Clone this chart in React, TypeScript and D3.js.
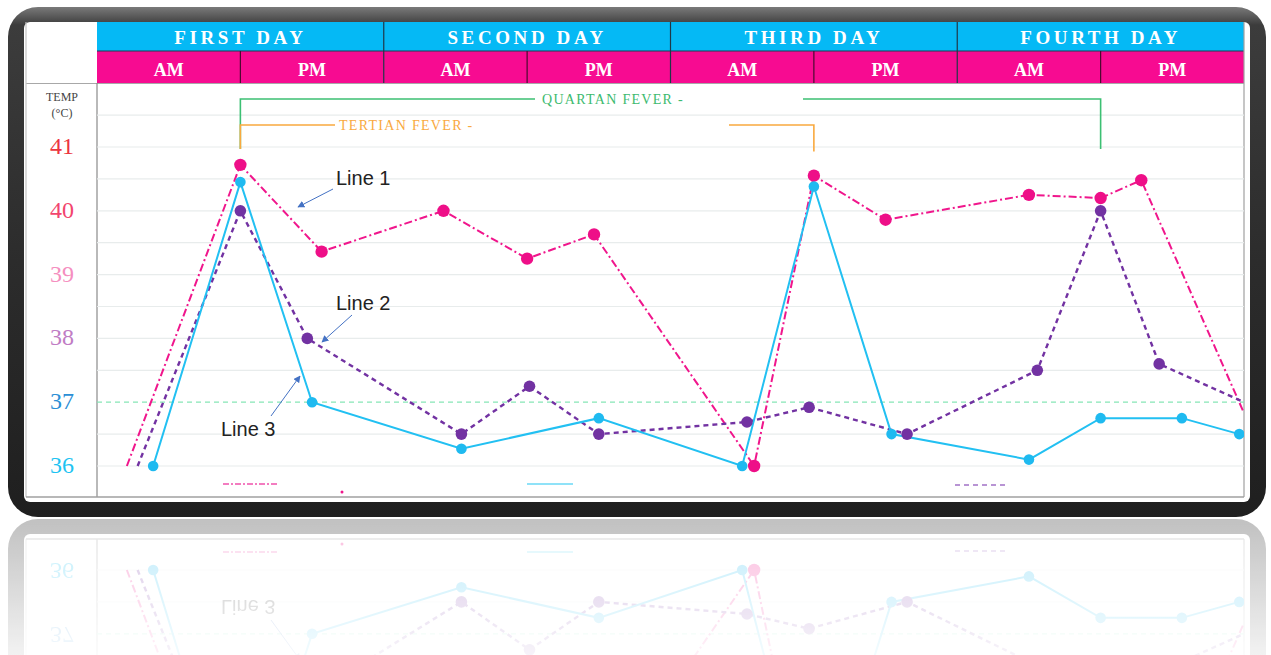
import React from "react";
import * as d3 from "d3";

const days = ["FIRST DAY", "SECOND DAY", "THIRD DAY", "FOURTH DAY"];
const halves = ["AM", "PM"];
const yTicks = [36, 37, 38, 39, 40, 41];
const yTickColors = ["#1ec3f2", "#2b8fd6", "#c07cc4", "#f58fbf", "#f2456e", "#ec3540"];
const gridTemps = [36, 36.5, 37.5, 38, 38.5, 39, 39.5, 40, 40.5, 41, 41.5];

// hours since start of day 1, temperature °C
const line1Hours = [2.5, 12, 18.8, 29, 36, 41.6, 55, 60, 66, 78, 84, 87.4, 96];
const line1Temps = [36.0, 40.72, 39.36, 40.0, 39.25, 39.63, 36.0, 40.55, 39.86, 40.25, 40.2, 40.48, 36.83];
const line2Hours = [3.4, 12, 17.6, 30.5, 36.2, 42, 54.4, 59.6, 67.8, 78.7, 84, 88.9, 96];
const line2Temps = [36.0, 40.0, 38.0, 36.5, 37.25, 36.5, 36.69, 36.92, 36.5, 37.5, 40.0, 37.6, 37.0];
const line3Hours = [4.7, 12, 18, 30.5, 42, 54, 60, 66.5, 78, 84, 90.8, 95.6];
const line3Temps = [36.0, 40.45, 37.0, 36.27, 36.75, 36.0, 40.38, 36.5, 36.1, 36.75, 36.75, 36.5];

const normalTemp = 37;
const quartan = { label: "QUARTAN FEVER -", start: 12, end: 84 };
const tertian = { label: "TERTIAN FEVER -", start: 12, end: 60 };

const L = 97, R = 1244;
const x = d3.scaleLinear().domain([0, 96]).range([L, R]);
const y = d3.scaleLinear().domain([36, 41]).range([466, 147]);

type P = [number, number];
const zip = (h: number[], t: number[]): P[] => h.map((v, i) => [v, t[i]]);
const lineGen = d3.line<P>().x(d => x(d[0])).y(d => y(d[1]));

const s1 = zip(line1Hours, line1Temps);
const s2 = zip(line2Hours, line2Temps);
const s3 = zip(line3Hours, line3Temps);

const serif = "'Liberation Serif', 'DejaVu Serif', serif";
const sans = "'Liberation Sans', Arial, sans-serif";

function Card() {
  const dayW = (R - L) / 4;
  const halfW = dayW / 2;
  return (
    <g id="card">
      <rect x={8} y={7} width={1258} height={510} rx={30} fill="url(#frameGrad)" />
      <rect x={24} y={22} width={1226} height={480} rx={6} fill="#ffffff" />
      {/* header */}
      <rect x={L} y={22} width={R - L} height={29} fill="#05b9f5" />
      <rect x={L} y={51} width={R - L} height={32} fill="#f70b91" />
      <line x1={L} x2={R} y1={51} y2={51} stroke="#1d3f55" strokeWidth={1.2} />
      {days.map((d, i) => (
        <g key={d}>
          {i > 0 && <line x1={L + i * dayW} x2={L + i * dayW} y1={22} y2={83} stroke="#203848" strokeWidth={1.2} />}
          <text x={L + i * dayW + dayW / 2} y={44} textAnchor="middle" fill="#fff" fontFamily={serif}
            fontWeight="bold" fontSize={19} letterSpacing={3.6}>{d}</text>
          {halves.map((h, j) => (
            <g key={h}>
              {j > 0 && <line x1={L + i * dayW + halfW} x2={L + i * dayW + halfW} y1={51} y2={83} stroke="#4a0a30" strokeWidth={1.2} />}
              <text x={L + i * dayW + j * halfW + halfW / 2} y={76} textAnchor="middle" fill="#fff"
                fontFamily={serif} fontWeight="bold" fontSize={18}>{h}</text>
            </g>
          ))}
        </g>
      ))}
      {/* table borders */}
      <line x1={26} x2={R} y1={83.5} y2={83.5} stroke="#a8a8a8" strokeWidth={1.2} />
      <line x1={L} x2={L} y1={83} y2={497} stroke="#8a8a8a" strokeWidth={1.2} />
      <line x1={26} x2={26} y1={22} y2={497} stroke="#c4c4c4" strokeWidth={1.2} />
      <line x1={R} x2={R} y1={22} y2={497} stroke="#a0a0a0" strokeWidth={1.2} />
      <line x1={26} x2={R} y1={497} y2={497} stroke="#a0a0a0" strokeWidth={1.5} />
      {/* grid */}
      {gridTemps.map(t => (
        <line key={t} x1={L} x2={R} y1={y(t)} y2={y(t)} stroke="#e8ecec" strokeWidth={1.2} />
      ))}
      <line x1={L} x2={R} y1={y(normalTemp)} y2={y(normalTemp)} stroke="#86e6b6" strokeWidth={1.3} strokeDasharray="5,4" />
      {/* y axis */}
      <text x={62} y={101} textAnchor="middle" fontFamily={serif} fontSize={12} fill="#444">TEMP</text>
      <text x={62} y={117} textAnchor="middle" fontFamily={serif} fontSize={12} fill="#444">(°C)</text>
      {yTicks.map((t, i) => (
        <text key={t} x={62} y={y(t) + 7} textAnchor="middle" fontFamily={serif} fontSize={24} fill={yTickColors[i]}>{t}</text>
      ))}
      {/* annotations */}
      <path d={`M${x(quartan.start)},${y(40.97)}V99H535M803,99H${x(quartan.end)}V${y(40.97)}`} fill="none" stroke="#3cc073" strokeWidth={1.6} />
      <text x={542} y={104} fontFamily={serif} fontSize={14} letterSpacing={1.3} fill="#3cba6e">{quartan.label}</text>
      <path d={`M${x(tertian.start)},${y(40.97)}V125H335M729,125H${x(tertian.end)}V${y(40.93)}`} fill="none" stroke="#f9a93f" strokeWidth={1.6} />
      <text x={339} y={130} fontFamily={serif} fontSize={14} letterSpacing={1.3} fill="#f9a93f">{tertian.label}</text>
      {/* lines */}
      <g clipPath="url(#plotClip)">
        <path d={lineGen(s1) || ""} fill="none" stroke="#f0168c" strokeWidth={2} strokeDasharray="8,3,2,3" />
        <path d={lineGen(s2) || ""} fill="none" stroke="#7232a2" strokeWidth={2.4} strokeDasharray="5,4" />
        <path d={lineGen(s3) || ""} fill="none" stroke="#22c0f2" strokeWidth={2} />
        {s1.slice(1, -1).map((d, i) => <circle key={"a" + i} cx={x(d[0])} cy={y(d[1])} r={6.2} fill="#ee0f88" />)}
        {s2.slice(1, -1).map((d, i) => <circle key={"b" + i} cx={x(d[0])} cy={y(d[1])} r={5.8} fill="#7232a2" />)}
        {s3.map((d, i) => <circle key={"c" + i} cx={x(d[0])} cy={y(d[1])} r={5.3} fill="#1fbaf0" />)}
      </g>
      {/* line labels */}
      <text x={336} y={185} fontFamily={sans} fontSize={20} fill="#222">Line 1</text>
      <line x1={333} y1={189} x2={298} y2={207} stroke="#4472c4" strokeWidth={1} markerEnd="url(#arr)" />
      <text x={336} y={310} fontFamily={sans} fontSize={20} fill="#222">Line 2</text>
      <line x1={352} y1={315} x2={322} y2={342} stroke="#4472c4" strokeWidth={1} markerEnd="url(#arr)" />
      <text x={221} y={436} fontFamily={sans} fontSize={20} fill="#222">Line 3</text>
      <line x1={271} y1={416} x2={300} y2={376} stroke="#4472c4" strokeWidth={1} markerEnd="url(#arr)" />
      {/* partial legend */}
      <line x1={223} x2={278} y1={484} y2={484} stroke="#f37cc0" strokeWidth={2} strokeDasharray="6,2,2,2" />
      <circle cx={342} cy={492} r={1.5} fill="#f0168c" />
      <line x1={527} x2={573} y1={484} y2={484} stroke="#8fe2f8" strokeWidth={2} />
      <line x1={955} x2={1008} y1={485} y2={485} stroke="#b894d4" strokeWidth={2} strokeDasharray="5,4" />
    </g>
  );
}

export default function App() {
  return (
    <svg width={1271} height={655} style={{ position: "absolute", left: 0, top: 0, background: "#fff" }}>
      <defs>
        <linearGradient id="frameGrad" x1="0" y1="0" x2="0" y2="1">
          <stop offset="0" stopColor="#7a7a7a" />
          <stop offset="0.035" stopColor="#3c3c3c" />
          <stop offset="0.5" stopColor="#2c2c2c" />
          <stop offset="1" stopColor="#1f1f1f" />
        </linearGradient>
        <clipPath id="plotClip">
          <rect x={L} y={84} width={R - L} height={413} />
        </clipPath>
        <marker id="arr" viewBox="0 0 10 10" refX="9" refY="5" markerWidth="7" markerHeight="7" orient="auto">
          <path d="M0,0L10,5L0,10Z" fill="#4472c4" />
        </marker>
        <linearGradient id="reflGrad" x1="0" y1="0" x2="0" y2="1">
          <stop offset="0" stopColor="#fff" stopOpacity={0.28} />
          <stop offset="1" stopColor="#fff" stopOpacity={0.06} />
        </linearGradient>
        <mask id="reflMask" maskUnits="userSpaceOnUse" x={0} y={517} width={1271} height={138}>
          <rect x={0} y={518} width={1271} height={137} fill="url(#reflGrad)" />
        </mask>
      </defs>
      <Card />
      <g mask="url(#reflMask)">
        <use href="#card" transform="translate(0,1036) scale(1,-1)" />
      </g>
    </svg>
  );
}
